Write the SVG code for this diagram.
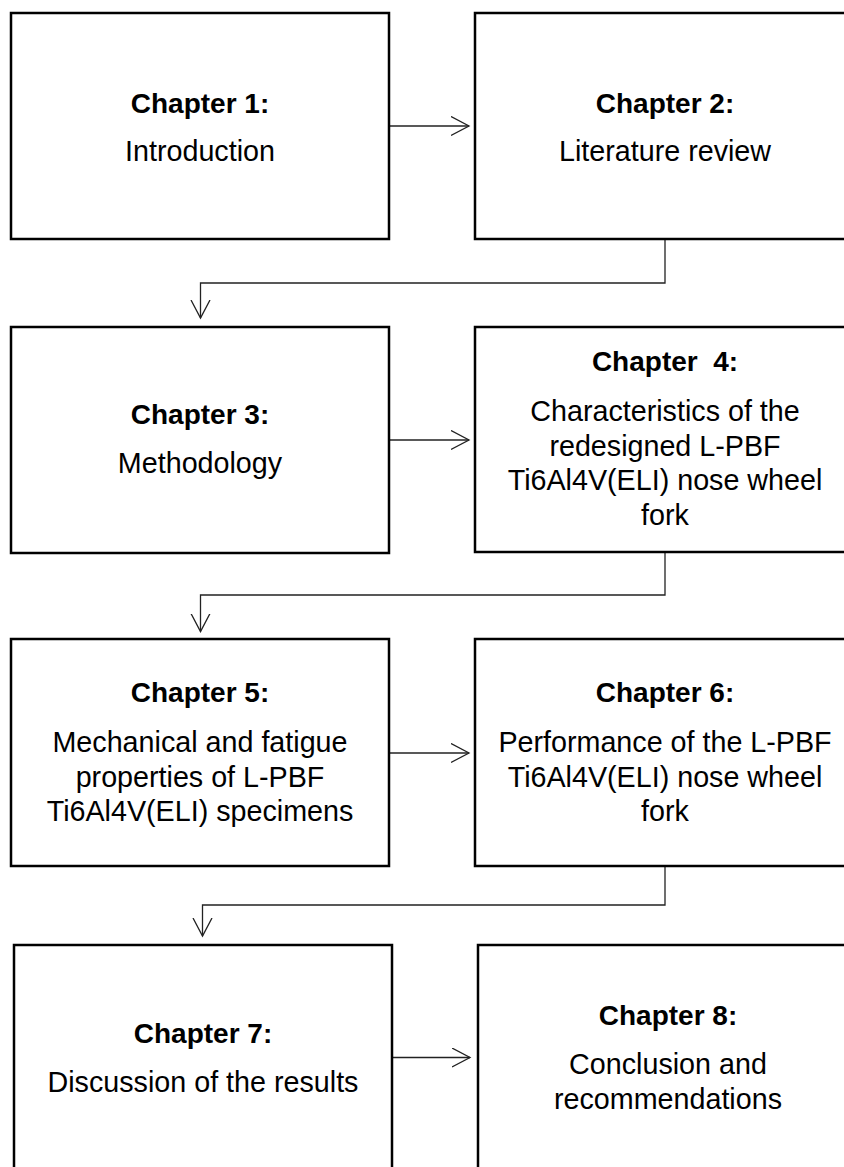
<svg xmlns="http://www.w3.org/2000/svg" width="844" height="1167" viewBox="0 0 844 1167">
<style>
.box{fill:#fff;stroke:#000;stroke-width:2.5}
.conn{fill:none;stroke:#222;stroke-width:1.3}
.t{font-family:"Liberation Sans",Arial,sans-serif;font-size:28.7px;fill:#000;text-anchor:middle}
.b{font-weight:bold;font-size:28px}
</style>
<defs>
<marker id="ah" markerUnits="userSpaceOnUse" markerWidth="20" markerHeight="21" refX="18" refY="10" orient="auto" viewBox="0 0 20 21">
<path d="M0,0.5 L18,10 L0,19.5" fill="none" stroke="#222" stroke-width="1.3"/>
</marker>
</defs>
<rect width="844" height="1167" fill="#fff"/>
<g id="connectors">
<path class="conn" d="M389 126 H469" marker-end="url(#ah)"/>
<path class="conn" d="M665 239 V283 H200.5 V318" marker-end="url(#ah)"/>
<path class="conn" d="M389 440 H469" marker-end="url(#ah)"/>
<path class="conn" d="M665 552 V595 H200.5 V631.5" marker-end="url(#ah)"/>
<path class="conn" d="M389 753 H469" marker-end="url(#ah)"/>
<path class="conn" d="M665 866 V905 H202.5 V936" marker-end="url(#ah)"/>
<path class="conn" d="M392 1057.5 H470" marker-end="url(#ah)"/>
</g>
<g id="ch1">
<rect class="box" x="11" y="13" width="378" height="226"/>
<text class="t b" x="200" y="113">Chapter 1:</text>
<text class="t" x="200" y="161">Introduction</text>
</g>
<g id="ch2">
<rect class="box" x="475" y="13" width="380" height="226"/>
<text class="t b" x="665" y="113">Chapter 2:</text>
<text class="t" x="665" y="161">Literature review</text>
</g>
<g id="ch3">
<rect class="box" x="11" y="327" width="378" height="226"/>
<text class="t b" x="200" y="424">Chapter 3:</text>
<text class="t" x="200" y="473">Methodology</text>
</g>
<g id="ch4">
<rect class="box" x="475" y="327" width="380" height="225"/>
<text class="t b" x="665" y="371" xml:space="preserve">Chapter  4:</text>
<text class="t" x="665" y="421">Characteristics of the</text>
<text class="t" x="665" y="455.5">redesigned L-PBF</text>
<text class="t" x="665" y="490">Ti6Al4V(ELI) nose wheel</text>
<text class="t" x="665" y="524.5">fork</text>
</g>
<g id="ch5">
<rect class="box" x="11" y="639" width="378" height="227"/>
<text class="t b" x="200" y="702">Chapter 5:</text>
<text class="t" x="200" y="752">Mechanical and fatigue</text>
<text class="t" x="200" y="786.5">properties of L-PBF</text>
<text class="t" x="200" y="821">Ti6Al4V(ELI) specimens</text>
</g>
<g id="ch6">
<rect class="box" x="475" y="639" width="380" height="227"/>
<text class="t b" x="665" y="702">Chapter 6:</text>
<text class="t" x="665" y="752">Performance of the L-PBF</text>
<text class="t" x="665" y="786.5">Ti6Al4V(ELI) nose wheel</text>
<text class="t" x="665" y="821">fork</text>
</g>
<g id="ch7">
<rect class="box" x="14" y="945" width="378" height="240"/>
<text class="t b" x="203" y="1043">Chapter 7:</text>
<text class="t" x="203" y="1092">Discussion of the results</text>
</g>
<g id="ch8">
<rect class="box" x="478" y="945" width="380" height="240"/>
<text class="t b" x="668" y="1025">Chapter 8:</text>
<text class="t" x="668" y="1074">Conclusion and</text>
<text class="t" x="668" y="1108.5">recommendations</text>
</g>
</svg>
